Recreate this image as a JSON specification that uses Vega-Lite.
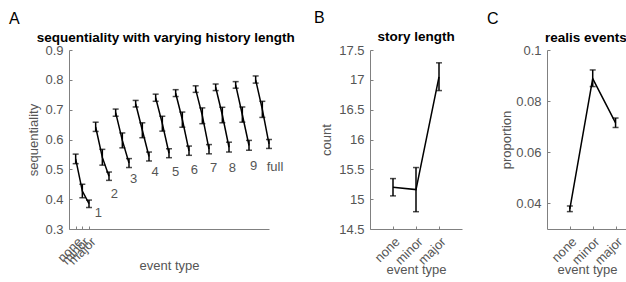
{
  "$schema": "https://vega.github.io/schema/vega-lite/v6.json",
  "background": "white",
  "padding": {"left": 8, "top": 10, "right": 0, "bottom": 0},
  "config": {
    "view": {"stroke": null},
    "font": "Liberation Sans",
    "axis": {
      "domainColor": "#808080", "tickColor": "#808080", "labelColor": "#555555", "titleColor": "#555555",
      "labelFont": "Liberation Sans", "titleFont": "Liberation Sans", "labelFontSize": 13, "titleFontSize": 13,
      "titleFontWeight": "normal", "grid": false, "tickSize": -3, "labelPadding": 9, "titlePadding": 4,
      "labelOverlap": false
    },
    "text": {"font": "Liberation Sans"}
  },
  "datasets": {
    "seq": [
      {"grp": "1", "x": 1, "m": 0.535, "lo": 0.519, "hi": 0.551},
      {"grp": "1", "x": 2, "m": 0.427, "lo": 0.405, "hi": 0.45},
      {"grp": "1", "x": 3, "m": 0.385, "lo": 0.372, "hi": 0.397},
      {"grp": "2", "x": 4, "m": 0.642, "lo": 0.627, "hi": 0.658},
      {"grp": "2", "x": 5, "m": 0.54, "lo": 0.514, "hi": 0.567},
      {"grp": "2", "x": 6, "m": 0.477, "lo": 0.463, "hi": 0.491},
      {"grp": "3", "x": 7, "m": 0.69, "lo": 0.678, "hi": 0.702},
      {"grp": "3", "x": 8, "m": 0.597, "lo": 0.572, "hi": 0.622},
      {"grp": "3", "x": 9, "m": 0.521, "lo": 0.506, "hi": 0.536},
      {"grp": "4", "x": 10, "m": 0.72, "lo": 0.709, "hi": 0.731},
      {"grp": "4", "x": 11, "m": 0.631, "lo": 0.606, "hi": 0.656},
      {"grp": "4", "x": 12, "m": 0.543, "lo": 0.528, "hi": 0.558},
      {"grp": "5", "x": 13, "m": 0.74, "lo": 0.728, "hi": 0.752},
      {"grp": "5", "x": 14, "m": 0.653, "lo": 0.628, "hi": 0.678},
      {"grp": "5", "x": 15, "m": 0.554, "lo": 0.539, "hi": 0.569},
      {"grp": "6", "x": 16, "m": 0.755, "lo": 0.744, "hi": 0.767},
      {"grp": "6", "x": 17, "m": 0.667, "lo": 0.641, "hi": 0.692},
      {"grp": "6", "x": 18, "m": 0.562, "lo": 0.547, "hi": 0.578},
      {"grp": "7", "x": 19, "m": 0.768, "lo": 0.758, "hi": 0.78},
      {"grp": "7", "x": 20, "m": 0.68, "lo": 0.653, "hi": 0.706},
      {"grp": "7", "x": 21, "m": 0.568, "lo": 0.552, "hi": 0.583},
      {"grp": "8", "x": 22, "m": 0.775, "lo": 0.764, "hi": 0.786},
      {"grp": "8", "x": 23, "m": 0.682, "lo": 0.656, "hi": 0.708},
      {"grp": "8", "x": 24, "m": 0.574, "lo": 0.558, "hi": 0.591},
      {"grp": "9", "x": 25, "m": 0.783, "lo": 0.772, "hi": 0.794},
      {"grp": "9", "x": 26, "m": 0.683, "lo": 0.658, "hi": 0.709},
      {"grp": "9", "x": 27, "m": 0.58, "lo": 0.564, "hi": 0.597},
      {"grp": "full", "x": 28, "m": 0.8, "lo": 0.789, "hi": 0.813},
      {"grp": "full", "x": 29, "m": 0.701, "lo": 0.674, "hi": 0.728},
      {"grp": "full", "x": 30, "m": 0.585, "lo": 0.57, "hi": 0.6}
    ],
    "seqlab": [
      {"lab": "1", "x": 4.4, "y": 0.352},
      {"lab": "2", "x": 6.8, "y": 0.417},
      {"lab": "3", "x": 9.7, "y": 0.467},
      {"lab": "4", "x": 12.9, "y": 0.491},
      {"lab": "5", "x": 16.0, "y": 0.491},
      {"lab": "6", "x": 18.8, "y": 0.498},
      {"lab": "7", "x": 21.7, "y": 0.503},
      {"lab": "8", "x": 24.5, "y": 0.506},
      {"lab": "9", "x": 27.7, "y": 0.51},
      {"lab": "full", "x": 30.9, "y": 0.508}
    ],
    "story": [
      {"x": 1, "m": 15.2, "lo": 15.055, "hi": 15.345},
      {"x": 2, "m": 15.16, "lo": 14.79, "hi": 15.53},
      {"x": 3, "m": 17.05, "lo": 16.82, "hi": 17.285}
    ],
    "realis": [
      {"x": 1, "m": 0.0379, "lo": 0.0368, "hi": 0.039},
      {"x": 2, "m": 0.0888, "lo": 0.0857, "hi": 0.0922},
      {"x": 3, "m": 0.0715, "lo": 0.0697, "hi": 0.0734}
    ]
  },
  "spacing": 101,
  "bounds": "flush",
  "hconcat": [
    {
      "width": 200, "height": 179,
      "layer": [
        {
          "data": {"name": "seq"},
          "mark": {"type": "line", "color": "black", "strokeWidth": 1.5},
          "encoding": {
            "x": {"field": "x", "type": "quantitative", "scale": {"domain": [0, 30], "nice": false},
              "axis": {"values": [1, 2, 3], "tickCount": 10, "labelExpr": "datum.value == 1 ? 'none' : datum.value == 2 ? 'minor' : 'major'", "labelAngle": -45, "labelOverlap": false, "title": "event type", "titlePadding": -8}},
            "y": {"field": "m", "type": "quantitative", "scale": {"domain": [0.3, 0.9], "nice": false},
              "axis": {"values": [0.3, 0.4, 0.5, 0.6, 0.7, 0.8, 0.9], "tickCount": 10, "format": ".1f", "labelOverlap": false, "title": "sequentiality", "titlePadding": 4}},
            "detail": {"field": "grp"}
          }
        },
        {
          "data": {"name": "seq"},
          "mark": {"type": "rule", "color": "black", "strokeWidth": 1.5},
          "encoding": {"x": {"field": "x", "type": "quantitative"}, "y": {"field": "lo", "type": "quantitative"}, "y2": {"field": "hi"}}
        },
        {
          "data": {"name": "seq"},
          "mark": {"type": "tick", "orient": "horizontal", "color": "black", "size": 6, "thickness": 1.5},
          "encoding": {"x": {"field": "x", "type": "quantitative"}, "y": {"field": "lo", "type": "quantitative"}}
        },
        {
          "data": {"name": "seq"},
          "mark": {"type": "tick", "orient": "horizontal", "color": "black", "size": 6, "thickness": 1.5},
          "encoding": {"x": {"field": "x", "type": "quantitative"}, "y": {"field": "hi", "type": "quantitative"}}
        },
        {
          "data": {"name": "seqlab"},
          "mark": {"type": "text", "fill": "#555555", "fontSize": 13, "align": "center", "baseline": "middle"},
          "encoding": {"x": {"field": "x", "type": "quantitative"}, "y": {"field": "y", "type": "quantitative"}, "text": {"field": "lab"}}
        },
        {
          "data": {"values": [{"t": "A", "x": -8.2, "y": 1.005}]},
          "mark": {"type": "text", "fill": "black", "fontSize": 16, "align": "center", "baseline": "middle"},
          "encoding": {"x": {"field": "x", "type": "quantitative"}, "y": {"field": "y", "type": "quantitative"}, "text": {"field": "t"}}
        },
        {
          "data": {"values": [{"t": "sequentiality with varying history length", "x": 14.5, "y": 0.94}]},
          "mark": {"type": "text", "fill": "black", "fontSize": 13.5, "fontWeight": "bold", "align": "center", "baseline": "middle"},
          "encoding": {"x": {"field": "x", "type": "quantitative"}, "y": {"field": "y", "type": "quantitative"}, "text": {"field": "t"}}
        }
      ]
    },
    {
      "spacing": 85,
      "bounds": "flush",
      "hconcat": [
        {
          "width": 92, "height": 179,
          "layer": [
            {
              "data": {"name": "story"},
              "mark": {"type": "line", "color": "black", "strokeWidth": 1.5},
              "encoding": {
                "x": {"field": "x", "type": "quantitative", "scale": {"domain": [0, 4], "nice": false},
                  "axis": {"values": [1, 2, 3], "tickCount": 10, "labelExpr": "datum.value == 1 ? 'none' : datum.value == 2 ? 'minor' : 'major'", "labelAngle": -45, "labelOverlap": false, "title": "event type", "titlePadding": -4}},
                "y": {"field": "m", "type": "quantitative", "scale": {"domain": [14.5, 17.5], "nice": false},
                  "axis": {"values": [14.5, 15, 15.5, 16, 16.5, 17, 17.5], "tickCount": 10, "format": "~g", "labelOverlap": false, "title": "count", "titlePadding": 5}}
              }
            },
            {
              "data": {"name": "story"},
              "mark": {"type": "rule", "color": "black", "strokeWidth": 1.5},
              "encoding": {"x": {"field": "x", "type": "quantitative"}, "y": {"field": "lo", "type": "quantitative"}, "y2": {"field": "hi"}}
            },
            {
              "data": {"name": "story"},
              "mark": {"type": "tick", "orient": "horizontal", "color": "black", "size": 6, "thickness": 1.5},
              "encoding": {"x": {"field": "x", "type": "quantitative"}, "y": {"field": "lo", "type": "quantitative"}}
            },
            {
              "data": {"name": "story"},
              "mark": {"type": "tick", "orient": "horizontal", "color": "black", "size": 6, "thickness": 1.5},
              "encoding": {"x": {"field": "x", "type": "quantitative"}, "y": {"field": "hi", "type": "quantitative"}}
            },
            {
              "data": {"values": [{"t": "B", "x": -2.2, "y": 18.03}]},
              "mark": {"type": "text", "fill": "black", "fontSize": 16, "align": "center", "baseline": "middle"},
              "encoding": {"x": {"field": "x", "type": "quantitative"}, "y": {"field": "y", "type": "quantitative"}, "text": {"field": "t"}}
            },
            {
              "data": {"values": [{"t": "story length", "x": 2.0, "y": 17.71}]},
              "mark": {"type": "text", "fill": "black", "fontSize": 13.5, "fontWeight": "bold", "align": "center", "baseline": "middle"},
              "encoding": {"x": {"field": "x", "type": "quantitative"}, "y": {"field": "y", "type": "quantitative"}, "text": {"field": "t"}}
            }
          ]
        },
        {
          "width": 80, "height": 179,
          "layer": [
            {
              "data": {"name": "realis"},
              "mark": {"type": "line", "color": "black", "strokeWidth": 1.5},
              "encoding": {
                "x": {"field": "x", "type": "quantitative", "scale": {"domain": [0, 3.5], "nice": false},
                  "axis": {"values": [1, 2, 3], "tickCount": 10, "labelExpr": "datum.value == 1 ? 'none' : datum.value == 2 ? 'minor' : 'major'", "labelAngle": -45, "labelOverlap": false, "title": "event type", "titlePadding": -4}},
                "y": {"field": "m", "type": "quantitative", "scale": {"domain": [0.03, 0.1], "nice": false},
                  "axis": {"values": [0.04, 0.06, 0.08, 0.1], "tickCount": 10, "format": ".2~f", "labelOverlap": false, "title": "proportion", "titlePadding": 2}}
              }
            },
            {
              "data": {"name": "realis"},
              "mark": {"type": "rule", "color": "black", "strokeWidth": 1.5},
              "encoding": {"x": {"field": "x", "type": "quantitative"}, "y": {"field": "lo", "type": "quantitative"}, "y2": {"field": "hi"}}
            },
            {
              "data": {"name": "realis"},
              "mark": {"type": "tick", "orient": "horizontal", "color": "black", "size": 6, "thickness": 1.5},
              "encoding": {"x": {"field": "x", "type": "quantitative"}, "y": {"field": "lo", "type": "quantitative"}}
            },
            {
              "data": {"name": "realis"},
              "mark": {"type": "tick", "orient": "horizontal", "color": "black", "size": 6, "thickness": 1.5},
              "encoding": {"x": {"field": "x", "type": "quantitative"}, "y": {"field": "hi", "type": "quantitative"}}
            },
            {
              "data": {"values": [{"t": "C", "x": -2.375, "y": 0.112}]},
              "mark": {"type": "text", "fill": "black", "fontSize": 16, "align": "center", "baseline": "middle"},
              "encoding": {"x": {"field": "x", "type": "quantitative"}, "y": {"field": "y", "type": "quantitative"}, "text": {"field": "t"}}
            },
            {
              "data": {"values": [{"t": "realis events", "x": 1.7, "y": 0.1048}]},
              "mark": {"type": "text", "fill": "black", "fontSize": 13.5, "fontWeight": "bold", "align": "center", "baseline": "middle"},
              "encoding": {"x": {"field": "x", "type": "quantitative"}, "y": {"field": "y", "type": "quantitative"}, "text": {"field": "t"}}
            }
          ]
        }
      ]
    }
  ]
}
